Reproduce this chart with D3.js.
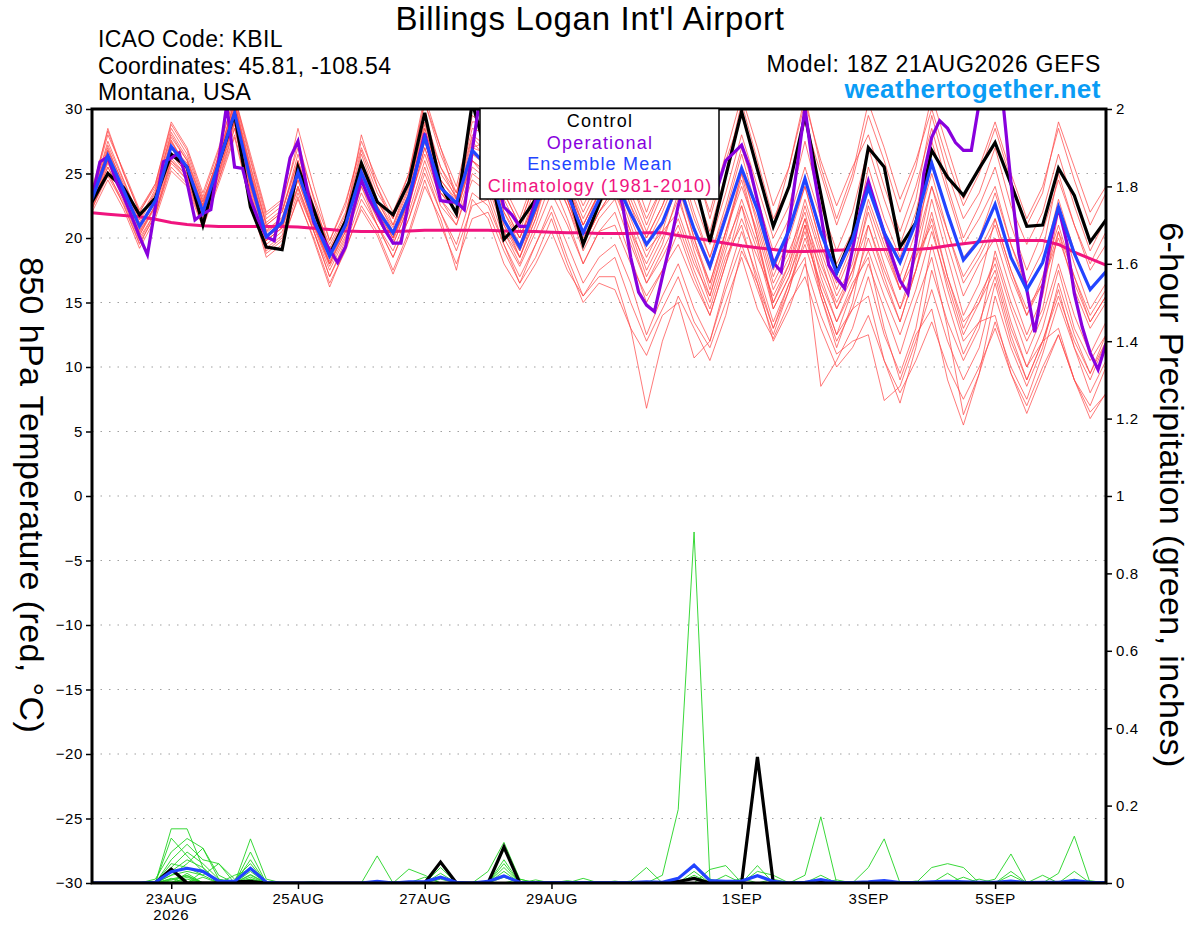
<!DOCTYPE html>
<html>
<head>
<meta charset="utf-8">
<script src="https://cdn.jsdelivr.net/npm/d3@7"></script>
<style>
  body { margin: 0; background: #fff; }
  svg { font-family: "Liberation Sans", Arial, Helvetica, sans-serif; }
</style>
</head>
<body>
<div class="svg-container"></div>
<script>
// model run + axis tick setup
const runStart = Date.UTC(2026, 7, 21, 18);
const tickDates = [Date.UTC(2026, 7, 23), Date.UTC(2026, 7, 25), Date.UTC(2026, 7, 27), Date.UTC(2026, 7, 29),
                   Date.UTC(2026, 8, 1), Date.UTC(2026, 8, 3), Date.UTC(2026, 8, 5)];
const tickLabels = ['23AUG', '25AUG', '27AUG', '29AUG', '1SEP', '3SEP', '5SEP'];
const tempTicks = [30, 25, 20, 15, 10, 5, 0, -5, -10, -15, -20, -25, -30];
const precipTicks = [0, 0.2, 0.4, 0.6, 0.8, 1, 1.2, 1.4, 1.6, 1.8, 2];

// 850 hPa temperature, 6-hourly (65 steps)
const controlTemp = [22.8, 25.0, 23.9, 21.8, 23.1, 26.5, 25.5, 21.0, 25.8, 29.6, 22.4, 19.3, 19.1, 25.5, 22.2, 18.7, 21.3,
  25.8, 22.8, 21.8, 24.3, 29.7, 24.1, 21.9, 30.5, 26.0, 19.9, 21.2, 23.0, 26.5, 24.0, 19.5, 22.6,
  26.0, 27.5, 25.0, 26.0, 28.0, 24.5, 19.7, 24.8, 29.8, 25.3, 20.9, 24.0, 29.5, 23.4, 17.3, 20.2,
  27.0, 25.5, 19.3, 21.2, 26.8, 24.7, 23.3, 25.4, 27.4, 24.2, 20.9, 21.0, 25.4, 23.3, 19.7, 21.4];

const meanTemp = [23.0, 26.4, 23.7, 20.9, 22.9, 27.1, 25.5, 22.0, 25.8, 29.7, 24.5, 20.1, 21.2, 25.1, 21.4, 18.6, 21.0,
  25.1, 22.2, 20.4, 23.2, 27.8, 23.9, 22.7, 26.8, 25.5, 21.4, 19.3, 22.4, 25.5, 23.5, 20.4, 23.0,
  24.5, 21.9, 19.5, 21.2, 24.3, 20.7, 17.8, 21.6, 25.4, 22.2, 17.9, 20.6, 24.6, 20.4, 17.3, 19.9,
  23.9, 20.4, 18.1, 21.2, 25.8, 21.9, 18.3, 19.8, 22.6, 18.5, 16.0, 18.1, 22.4, 18.8, 16.0, 17.4];

const climatology = [21.95, 21.85, 21.75, 21.65, 21.45, 21.2, 21.05, 20.95, 20.9, 20.9, 20.9, 20.9, 20.9, 20.85, 20.75, 20.65, 20.55,
  20.5, 20.5, 20.5, 20.55, 20.6, 20.6, 20.6, 20.6, 20.6, 20.55, 20.5, 20.5, 20.45, 20.4, 20.4, 20.35,
  20.35, 20.35, 20.4, 20.4, 20.2, 20.0, 19.8, 19.6, 19.4, 19.25, 19.1, 18.95, 18.95, 19.0, 19.05, 19.1,
  19.1, 19.1, 19.1, 19.1, 19.2, 19.4, 19.55, 19.7, 19.8, 19.8, 19.8, 19.8, 19.5, 18.9, 18.4, 17.9];

// operational run is 3-hourly (129 steps)
const operationalTemp = [23.1, 25.9, 26.3, 24.5, 23.2, 21.7, 20.1, 18.7,
  22.4, 25.9, 26.2, 26.6, 24.3, 21.4, 21.9, 22.2,
  26.0, 30.3, 25.5, 25.4, 23.0, 21.4, 20.1, 19.8,
  23.0, 26.2, 27.5, 24.3, 21.2, 20.1, 19.1, 18.1,
  19.3, 22.2, 24.5, 23.0, 21.9, 20.6, 19.6, 19.6,
  22.9, 25.5, 28.1, 25.5, 22.9, 22.8, 22.8, 22.2,
  26.8, 31.0, 28.0, 25.0, 22.4, 21.8, 20.9, 20.9,
  22.9, 26.0, 28.0, 27.0, 25.0, 24.0, 24.5, 26.0,
  27.0, 26.5, 25.0, 22.5, 18.5, 15.8, 14.8, 14.3,
  17.0, 19.6, 22.5, 24.5, 25.5, 25.0, 24.0, 24.0,
  26.0, 26.6, 27.2, 25.5, 22.9, 20.4, 18.1, 17.4,
  21.2, 25.5, 30.1, 25.5, 21.9, 17.9, 16.9, 16.1,
  19.1, 22.2, 24.4, 22.4, 20.4, 18.5, 16.7, 15.7,
  19.6, 25.0, 27.8, 29.1, 28.5, 27.4, 26.8, 26.8,
  30.5, 31.5, 31.5, 30.5, 24.3, 18.8, 16.0, 12.7,
  16.2, 19.8, 22.4, 19.8, 15.7, 13.1, 11.1, 9.8,
  11.8];

// ensemble members, 6-hourly
const memberTemps = [
  [23.2, 27.5,24.5,21.5,23.8, 28.0,26.0,22.5,26.5, 30.5,25.2,21.0,22.0, 26.5,22.5,19.5,22.0, 26.8,23.5,21.5,24.5, 29.5,25.5,23.5,28.0, 27.0,23.5,21.0,24.5, 28.5,25.5,22.5,25.0, 27.5,24.5,21.5,24.0, 28.5,24.0,20.5,25.0, 30.5,26.0,21.5,24.0, 29.0,25.0,21.0,24.5, 29.5,26.0,22.0,25.5, 31.0,27.0,23.0,25.5, 29.0,25.0,21.5,24.0, 28.5,24.5,21.0,23.5],
  [22.5, 25.5,23.0,20.0,22.0, 26.0,24.5,21.0,24.5, 28.5,23.5,19.0,20.0, 23.5,20.5,17.0,19.5, 23.0,21.0,18.5,21.5, 25.5,22.0,19.5,23.5, 22.5,19.5,17.0,19.5, 22.0,18.5,15.5,17.0, 17.0,13.0,6.8,12.0, 15.5,13.0,10.5,14.0, 19.0,16.5,13.0,16.0, 21.0,17.5,14.5,17.0, 22.5,19.0,16.0,19.5, 24.0,20.5,17.0,19.0, 21.5,17.5,14.5,16.5, 20.5,17.0,14.0,16.0],
  [23.5, 28.5,25.0,22.0,24.0, 28.5,26.5,23.0,26.0, 30.8,26.0,21.5,22.5, 27.5,23.0,19.0,21.5, 28.0,24.0,21.0,24.5, 30.5,26.5,23.5,28.5, 28.0,22.5,20.0,23.0, 27.0,24.5,21.0,23.5, 26.0,22.5,19.0,20.5, 22.0,18.5,15.0,19.0, 23.0,19.5,15.0,17.5, 21.5,16.0,12.5,16.0, 20.0,16.5,13.5,17.5, 22.0,17.0,13.0,15.5, 18.0,13.5,10.0,13.0, 17.5,13.0,10.5,12.5],
  [22.8, 26.0,23.0,20.5,22.5, 27.0,25.0,21.5,25.5, 29.0,24.0,20.0,21.0, 24.5,21.0,18.0,20.5, 24.0,21.5,19.5,22.5, 27.0,23.0,21.0,25.0, 24.0,20.5,18.0,21.0, 24.5,21.5,18.0,20.5, 22.0,18.5,15.0,17.5, 20.5,17.0,14.0,18.0, 22.5,17.5,13.5,16.5, 18.5,8.5,10.5,13.0, 17.0,12.5,9.5,13.0, 19.5,15.0,11.0,13.5, 17.0,12.5,9.0,12.0, 16.0,11.5,8.0,10.5],
  [23.0, 27.0,24.0,21.0,23.0, 27.5,25.5,22.5,26.0, 30.5,25.0,20.5,21.5, 25.5,21.5,18.5,21.0, 25.5,22.5,20.5,23.5, 28.5,24.5,23.0,27.5, 26.0,21.5,19.5,23.0, 27.0,24.0,20.5,23.5, 25.5,22.0,19.5,22.0, 25.0,20.5,17.5,21.5, 25.5,21.0,16.5,19.0, 22.0,17.0,13.5,16.5, 18.5,13.0,9.0,12.5, 14.5,9.0,5.5,9.5, 13.5,10.0,7.5,11.0, 15.0,11.5,9.0,12.0],
  [22.6, 25.8,23.2,20.2,22.6, 26.5,25.0,21.8,25.2, 29.0,24.2,19.8,20.8, 24.0,20.8,17.8,20.2, 24.5,21.8,19.8,22.8, 26.5,23.0,21.5,25.5, 24.5,20.5,18.5,21.5, 25.5,22.5,19.0,21.5, 23.0,19.5,16.5,19.0, 21.5,18.0,15.5,19.5, 22.5,19.0,14.5,17.0, 20.5,16.0,12.5,14.5, 15.5,10.5,7.2,11.5, 17.5,13.5,10.5,13.0, 19.0,15.0,12.0,14.5, 20.5,16.0,13.0,15.0],
  [23.3, 26.8,24.2,21.2,23.5, 27.8,26.0,22.8,26.2, 30.2,25.5,21.0,22.0, 26.0,22.0,19.0,21.5, 26.0,22.8,20.8,23.8, 28.8,25.0,23.2,27.8, 26.5,22.5,20.0,23.5, 27.5,24.5,21.5,24.0, 26.5,23.0,20.0,22.5, 26.0,22.0,18.5,22.5, 27.0,23.0,19.0,21.5, 25.5,21.5,18.0,20.5, 24.0,20.0,16.0,18.5, 21.0,16.0,12.0,13.5, 14.0,9.5,6.4,9.5, 12.5,9.0,7.0,10.0],
  [22.4, 25.0,22.8,19.8,22.0, 26.0,24.8,21.5,25.0, 28.8,23.8,19.5,20.5, 23.8,20.5,17.5,20.0, 23.5,21.0,19.0,22.0, 26.0,22.5,21.0,24.5, 23.5,20.0,17.8,20.5, 23.5,21.0,18.0,20.5, 21.0,18.0,15.5,17.5, 19.5,16.5,14.0,18.0, 21.5,18.5,15.5,18.0, 21.5,18.0,15.0,17.5, 21.0,17.5,14.5,17.5, 21.5,17.0,13.5,15.0, 17.5,13.0,10.0,12.0, 13.0,9.0,6.0,8.0],
  [23.6, 28.0,25.2,22.2,24.2, 28.8,26.8,23.2,26.8, 31.0,26.2,21.8,22.8, 27.0,23.2,19.8,22.5, 27.5,24.5,22.0,25.0, 30.5,27.0,24.0,29.0, 29.0,24.0,21.5,25.0, 29.5,26.5,23.0,26.5, 29.0,25.5,22.0,25.5, 29.5,25.5,22.0,26.5, 31.0,27.0,22.5,25.5, 30.5,26.0,22.5,25.5, 28.0,24.0,20.5,24.0, 28.5,24.0,20.0,22.5, 25.5,21.0,17.5,20.5, 24.5,21.0,18.0,20.5],
  [22.2, 25.2,22.5,19.5,21.8, 25.5,24.2,21.0,24.5, 28.0,23.0,18.8,19.8, 23.0,20.0,16.5,19.0, 22.5,20.5,17.5,20.5, 24.5,21.0,18.0,21.5, 22.0,19.0,16.5,18.5, 21.5,18.0,15.0,16.5, 16.0,13.0,10.9,14.0, 15.0,10.7,12.0,16.0, 19.5,16.0,12.5,16.0, 20.0,16.5,13.5,16.0, 19.0,15.5,12.5,16.0, 20.5,16.5,12.5,15.0, 18.5,14.5,11.0,14.0, 18.0,14.0,11.0,13.5],
  [23.1, 26.5,23.8,20.8,23.2, 27.2,25.8,22.2,25.8, 30.0,24.8,20.2,21.2, 25.0,21.5,18.5,21.0, 25.0,22.0,20.0,23.0, 28.0,24.0,22.5,26.5, 25.5,21.5,19.0,22.0, 26.5,23.0,20.0,22.5, 24.5,21.0,17.5,20.0, 23.0,19.5,16.5,20.5, 24.0,20.5,16.0,18.5, 23.0,19.0,15.5,18.0, 23.0,19.5,16.0,19.5, 26.0,22.0,18.5,20.0, 23.5,19.5,16.0,18.0, 23.0,19.0,16.0,17.5],
  [22.9, 26.2,23.5,20.6,22.8, 27.0,25.2,21.8,25.8, 29.5,24.5,20.0,21.0, 25.2,21.2,18.2,20.8, 25.5,22.5,20.2,23.2, 28.2,24.2,22.0,26.0, 24.5,21.0,19.0,22.0, 25.0,22.5,19.5,22.0, 23.5,20.5,18.0,20.5, 24.5,20.0,16.5,20.5, 25.0,21.5,17.0,20.0, 24.0,19.5,16.0,19.0, 25.5,21.5,18.5,22.0, 27.5,23.5,19.5,21.5, 24.0,19.5,16.5,19.0, 25.0,21.0,17.5,19.5],
  [22.7, 25.5,23.2,20.2,22.4, 26.2,24.8,21.2,25.0, 29.2,24.0,19.8,20.8, 24.5,21.0,18.0,20.5, 24.5,21.5,19.5,22.5, 27.0,23.5,22.0,26.0, 25.0,21.0,18.5,22.0, 26.0,23.0,19.5,22.0, 24.0,20.0,16.5,18.5, 21.0,17.5,14.5,18.5, 21.0,16.5,12.0,14.5, 18.0,14.0,11.0,12.0, 12.5,7.4,8.5,12.0, 16.0,12.0,9.0,11.5, 16.5,12.0,9.0,12.0, 15.5,12.0,9.5,12.5],
  [23.4, 27.2,24.4,21.4,23.6, 28.2,26.2,22.8,26.4, 30.6,25.6,21.2,22.2, 26.0,22.4,19.2,21.8, 26.5,23.0,21.0,24.0, 29.0,25.5,23.0,27.0, 27.5,23.0,20.5,24.0, 28.0,25.0,22.0,24.5, 27.0,23.5,20.5,23.5, 27.5,23.0,19.5,23.5, 28.0,24.0,20.0,22.5, 27.5,22.5,19.0,22.0, 27.0,23.0,19.5,23.0, 29.5,25.0,21.5,23.5, 27.0,22.5,19.5,22.0, 26.5,22.5,19.0,21.5],
  [22.3, 24.8,22.6,19.6,21.8, 25.8,24.5,21.2,24.8, 28.5,23.5,19.2,20.2, 24.0,20.5,17.0,19.8, 24.0,21.0,18.5,21.5, 25.0,22.0,19.0,22.5, 23.0,19.5,16.5,19.5, 22.5,19.5,16.5,18.5, 19.5,16.5,12.5,15.5, 18.0,14.5,12.0,16.5, 20.5,17.0,13.0,16.5, 19.5,15.5,12.0,14.5, 18.0,14.5,11.0,15.0, 18.5,13.0,6.3,9.5, 15.5,11.5,8.5,11.5, 16.5,12.5,9.5,12.0],
  [23.0, 26.0,23.6,21.0,23.0, 27.4,25.6,22.4,25.6, 30.2,25.0,20.6,21.6, 25.4,21.8,18.6,21.2, 24.8,22.0,20.0,23.0, 27.5,23.5,22.0,26.5, 26.0,22.0,19.5,22.5, 27.0,24.0,21.0,23.5, 25.5,22.5,20.0,22.5, 25.5,21.5,18.5,22.0, 26.5,22.0,17.5,20.5, 24.0,19.5,16.5,19.5, 24.5,20.5,17.0,20.5, 25.0,20.5,16.5,18.5, 21.0,17.0,14.0,16.5, 20.0,16.5,13.5,15.5],
  [22.0, 24.5,22.2,19.2,21.5, 25.2,24.0,20.8,24.2, 27.8,22.8,18.5,19.5, 23.2,19.8,16.2,19.2, 22.2,20.2,17.2,20.2, 24.0,21.5,17.5,23.0, 21.5,18.0,16.0,18.0, 20.5,17.5,15.5,17.5, 18.5,15.0,12.0,14.5, 17.0,13.5,11.5,15.0, 18.5,14.5,12.2,15.0, 17.0,13.0,10.0,11.5, 14.0,10.5,8.0,10.5, 13.5,10.0,7.5,10.0, 13.0,9.5,7.0,10.0, 12.5,9.0,6.5,7.9],
  [23.8, 28.3,25.0,22.0,24.2, 29.0,27.0,23.5,27.0, 31.0,26.5,22.0,23.0, 28.5,24.0,19.8,22.8, 27.0,24.0,21.5,25.0, 31.0,27.0,23.0,29.5, 28.5,23.5,21.0,24.5, 30.5,27.0,23.0,26.0, 28.0,24.5,21.0,24.0, 30.5,26.0,21.5,26.0, 29.5,25.5,21.0,25.5, 31.0,25.5,21.5,25.0, 30.5,27.0,23.0,26.0, 30.0,26.0,22.5,25.0, 28.5,24.5,21.0,23.5, 29.0,25.5,22.0,24.0],
  [22.6, 26.0,23.2,20.4,22.5, 26.5,25.0,22.0,25.5, 29.5,24.5,19.8,20.8, 24.8,21.2,18.0,20.8, 25.5,22.5,20.0,22.8, 27.5,23.5,22.5,26.0, 25.0,21.5,18.5,21.5, 26.5,23.0,19.5,22.0, 24.0,20.5,17.0,19.5, 23.5,19.0,15.5,20.0, 25.0,20.0,15.0,18.0, 22.5,18.5,14.5,17.5, 22.0,18.0,14.5,18.5, 24.0,19.5,15.5,18.0, 20.0,16.0,12.5,15.5, 22.0,18.0,14.5,16.5],
  [23.2, 26.8,23.8,21.0,23.0, 27.6,25.4,22.6,26.0, 29.8,25.0,20.4,21.4, 25.8,22.0,18.8,21.4, 25.8,23.0,20.5,23.5, 28.5,24.5,22.8,27.0, 26.5,22.0,20.0,23.0, 27.5,24.0,21.0,23.5, 25.0,21.5,18.5,21.0, 24.0,20.0,16.0,20.5, 24.5,20.0,14.5,17.0, 21.0,15.5,11.5,15.0, 21.0,17.0,13.5,17.5, 23.0,18.5,14.0,16.5, 21.5,17.5,14.0,17.0, 21.0,17.0,13.5,15.5]
];

// 6-hour precipitation (inches), 6-hourly
const controlPrecip = [0, 0, 0, 0, 0, 0.036, 0, 0, 0, 0.003, 0.004, 0, 0, 0, 0, 0, 0,
  0, 0, 0, 0, 0, 0.054, 0, 0, 0, 0.093, 0, 0, 0, 0, 0, 0,
  0, 0, 0, 0, 0.004, 0.012, 0, 0, 0, 0.326, 0, 0, 0, 0.003, 0, 0,
  0, 0, 0, 0, 0, 0, 0, 0, 0, 0, 0, 0, 0, 0, 0, 0];

const meanPrecip = [0, 0, 0, 0, 0.002, 0.029, 0.038, 0.030, 0.005, 0.004, 0.038, 0.002, 0, 0, 0, 0, 0,
  0, 0.004, 0, 0.003, 0.003, 0.015, 0.002, 0, 0.004, 0.018, 0.002, 0.001, 0.001, 0.001, 0.001, 0.001,
  0.001, 0.001, 0.003, 0.002, 0.012, 0.046, 0.006, 0.004, 0.005, 0.019, 0.004, 0, 0.002, 0.009, 0.001, 0.001,
  0.003, 0.006, 0.001, 0.001, 0.003, 0.004, 0.003, 0.002, 0.002, 0.005, 0.001, 0.002, 0.002, 0.006, 0.002, 0.001];

// member precip: [step, inches] for every step that is not zero
const memberPrecip = [
  [[5, 0.14], [6, 0.14], [7, 0.04], [10, 0.114], [11, 0.01]],
  [[5, 0.116], [6, 0.07], [7, 0.03], [10, 0.08]],
  [[4, 0.01], [5, 0.08], [6, 0.115], [7, 0.09], [8, 0.02], [10, 0.06], [26, 0.05]],
  [[5, 0.06], [6, 0.10], [7, 0.06], [8, 0.05], [9, 0.01], [10, 0.05], [38, 0.03], [42, 0.045]],
  [[5, 0.04], [6, 0.08], [7, 0.05], [8, 0.01], [10, 0.04], [22, 0.04], [25, 0.03], [26, 0.105], [27, 0.01]],
  [[5, 0.03], [6, 0.06], [7, 0.04], [10, 0.03], [36, 0.02], [37, 0.19], [38, 0.907], [39, 0.01]],
  [[5, 0.02], [6, 0.05], [7, 0.09], [8, 0.01], [10, 0.02], [18, 0.07], [45, 0.02], [46, 0.171]],
  [[5, 0.05], [6, 0.04], [7, 0.02], [9, 0.02], [10, 0.035], [49, 0.04], [50, 0.114]],
  [[5, 0.02], [6, 0.03], [7, 0.02], [8, 0.05], [20, 0.036], [21, 0.02], [57, 0.01], [58, 0.075]],
  [[5, 0.01], [6, 0.02], [22, 0.025], [26, 0.06], [61, 0.025], [62, 0.121]],
  [[6, 0.015], [10, 0.015], [22, 0.015], [26, 0.04], [39, 0.035], [40, 0.045], [53, 0.04], [54, 0.05], [55, 0.04]],
  [[5, 0.012], [26, 0.03], [34, 0.005], [35, 0.04], [42, 0.03], [43, 0.02]],
  [[7, 0.03], [27, 0.01], [31, 0.012], [40, 0.02], [46, 0.02], [58, 0.03]],
  [[6, 0.025], [10, 0.01], [26, 0.02], [38, 0.02], [54, 0.025], [62, 0.03]],
  [[9, 0.005], [22, 0.01], [28, 0.008], [42, 0.02], [56, 0.01], [63, 0.006]],
  [[5, 0.008], [6, 0.018], [41, 0.012], [52, 0.005], [58, 0.02]],
  [[10, 0.022], [14, 0.004], [30, 0.006], [47, 0.008]],
  [[6, 0.01], [21, 0.015], [43, 0.01], [60, 0.02]],
  [[7, 0.015], [26, 0.015], [38, 0.015], [55, 0.015]],
  [[5, 0.005], [10, 0.01], [33, 0.005], [62, 0.01]]
];

const legendItems = [
  { label: 'Control', color: '#000000' },
  { label: 'Operational', color: '#8800dd' },
  { label: 'Ensemble Mean', color: '#2244ff' },
  { label: 'Climatology (1981-2010)', color: '#f0147f' }
];

function renderPlume() {
  const width = 1200;
  const height = 927;
  const plot = { left: 92, right: 1106, top: 109, bottom: 883 };
  const hour = 3600 * 1000;

  const svg = d3.select('.svg-container')
    .append('svg')
    .attr('width', width)
    .attr('height', height);

  const x = d3.scaleUtc()
    .domain([runStart, runStart + 384 * hour])
    .range([plot.left, plot.right]);
  const yT = d3.scaleLinear().domain([-30, 30]).range([plot.bottom, plot.top]);
  const yP = d3.scaleLinear().domain([0, 2]).range([plot.bottom, plot.top]);

  svg.append('clipPath').attr('id', 'plot-clip')
    .append('rect')
    .attr('x', plot.left).attr('y', plot.top)
    .attr('width', plot.right - plot.left).attr('height', plot.bottom - plot.top);

  // dotted grid lines
  svg.append('g').selectAll('line')
    .data(tempTicks.filter(t => t > -30 && t < 30))
    .enter().append('line')
    .attr('x1', plot.left).attr('x2', plot.right)
    .attr('y1', d => yT(d)).attr('y2', d => yT(d))
    .attr('stroke', '#a0a0a0')
    .attr('stroke-width', 1.2)
    .attr('stroke-dasharray', '1.5,7');

  const lines = svg.append('g').attr('clip-path', 'url(#plot-clip)');

  const tempLine6 = d3.line().x((d, i) => x(runStart + i * 6 * hour)).y(d => yT(d));
  const tempLine3 = d3.line().x((d, i) => x(runStart + i * 3 * hour)).y(d => yT(d));
  const precipLine = d3.line().x((d, i) => x(runStart + i * 6 * hour)).y(d => yP(d));

  // ensemble members
  lines.append('g').selectAll('path')
    .data(memberTemps)
    .enter().append('path')
    .attr('d', tempLine6)
    .attr('fill', 'none')
    .attr('stroke', '#ff4545')
    .attr('stroke-opacity', 0.8)
    .attr('stroke-width', 0.9);

  const precipSeries = memberPrecip.map(events => {
    const vals = controlPrecip.map(() => 0);
    events.forEach(([i, v]) => { vals[i] = v; });
    return vals;
  });

  lines.append('g').selectAll('path')
    .data(precipSeries)
    .enter().append('path')
    .attr('d', precipLine)
    .attr('fill', 'none')
    .attr('stroke', '#22d422')
    .attr('stroke-width', 0.9);

  lines.append('path').datum(climatology)
    .attr('d', tempLine6).attr('fill', 'none')
    .attr('stroke', '#f0147f').attr('stroke-width', 3);

  lines.append('path').datum(controlTemp)
    .attr('d', tempLine6).attr('fill', 'none')
    .attr('stroke', '#000').attr('stroke-width', 3.2);

  lines.append('path').datum(operationalTemp)
    .attr('d', tempLine3).attr('fill', 'none')
    .attr('stroke', '#8800dd').attr('stroke-width', 3.2);

  lines.append('path').datum(meanTemp)
    .attr('d', tempLine6).attr('fill', 'none')
    .attr('stroke', '#2244ff').attr('stroke-width', 3.2);

  lines.append('path').datum(controlPrecip)
    .attr('d', precipLine).attr('fill', 'none')
    .attr('stroke', '#000').attr('stroke-width', 3.2);

  lines.append('path').datum(meanPrecip)
    .attr('d', precipLine).attr('fill', 'none')
    .attr('stroke', '#2244ff').attr('stroke-width', 3.2);

  // axes
  const leftAxis = svg.append('g')
    .attr('transform', `translate(${plot.left},0)`)
    .call(d3.axisLeft(yT).tickValues(tempTicks).tickSize(6).tickPadding(3).tickSizeOuter(0));
  const rightAxis = svg.append('g')
    .attr('transform', `translate(${plot.right},0)`)
    .call(d3.axisRight(yP).tickValues(precipTicks).tickSize(6).tickPadding(4).tickSizeOuter(0)
      .tickFormat(d => String(+d.toFixed(1))));
  const bottomAxis = svg.append('g')
    .attr('transform', `translate(0,${plot.bottom})`)
    .call(d3.axisBottom(x).tickValues(tickDates.map(d => new Date(d))).tickSize(6).tickPadding(4).tickSizeOuter(0)
      .tickFormat((d, i) => tickLabels[i]));

  [leftAxis, rightAxis, bottomAxis].forEach(g => {
    g.select('.domain').remove();
    g.attr('font-family', null).attr('font-size', 15).attr('letter-spacing', 0.6);
    g.selectAll('line').attr('stroke', '#000').attr('stroke-width', 1.5);
    g.selectAll('text').attr('fill', '#000');
  });

  bottomAxis.append('text')
    .attr('x', x(tickDates[0]))
    .attr('y', 37)
    .attr('text-anchor', 'middle')
    .attr('fill', '#000')
    .text('2026');

  // frame
  svg.append('rect')
    .attr('x', plot.left).attr('y', plot.top)
    .attr('width', plot.right - plot.left).attr('height', plot.bottom - plot.top)
    .attr('fill', 'none').attr('stroke', '#000').attr('stroke-width', 3);

  // legend
  const legend = svg.append('g');
  legend.append('rect')
    .attr('x', 480).attr('y', 108.5)
    .attr('width', 239).attr('height', 90.5)
    .attr('fill', '#fff').attr('stroke', '#000').attr('stroke-width', 1.5);
  legend.selectAll('text')
    .data(legendItems)
    .enter().append('text')
    .attr('x', 600)
    .attr('y', (d, i) => 127 + i * 21.6)
    .attr('text-anchor', 'middle')
    .attr('font-size', 18)
    .attr('letter-spacing', 1.2)
    .attr('fill', d => d.color)
    .text(d => d.label);

  // titles
  svg.append('text')
    .attr('x', 590).attr('y', 30)
    .attr('text-anchor', 'middle')
    .attr('font-size', 33)
    .attr('letter-spacing', 0.7)
    .text("Billings Logan Int'l Airport");

  const info = ['ICAO Code: KBIL', 'Coordinates: 45.81, -108.54', 'Montana, USA'];
  svg.append('g').selectAll('text')
    .data(info)
    .enter().append('text')
    .attr('x', 98)
    .attr('y', (d, i) => 47 + i * 26.5)
    .attr('font-size', 23)
    .attr('letter-spacing', 0.3)
    .text(d => d);

  svg.append('text')
    .attr('x', 1101).attr('y', 72)
    .attr('text-anchor', 'end')
    .attr('font-size', 23)
    .attr('letter-spacing', 0.7)
    .text('Model: 18Z 21AUG2026 GEFS');

  svg.append('text')
    .attr('x', 1101).attr('y', 98)
    .attr('text-anchor', 'end')
    .attr('font-size', 26)
    .attr('font-weight', 'bold')
    .attr('letter-spacing', 0.5)
    .attr('fill', '#0a9cf5')
    .text('weathertogether.net');

  svg.append('text')
    .attr('transform', 'translate(20,495) rotate(90)')
    .attr('text-anchor', 'middle')
    .attr('font-size', 34)
    .attr('letter-spacing', 0.4)
    .text('850 hPa Temperature (red, °C)');

  svg.append('text')
    .attr('transform', 'translate(1160,495) rotate(90)')
    .attr('text-anchor', 'middle')
    .attr('font-size', 34)
    .attr('letter-spacing', 0.4)
    .text('6-hour Precipitation (green, inches)');
}

renderPlume();
</script>
</body>
</html>
